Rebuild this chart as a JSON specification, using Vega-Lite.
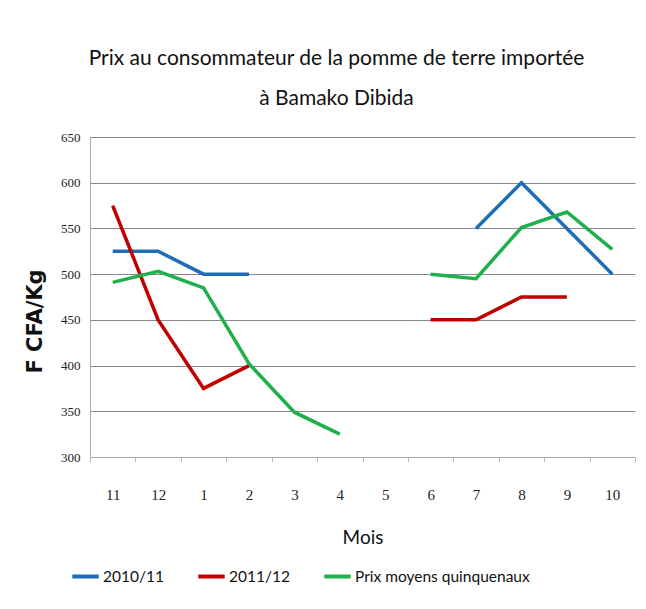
{
  "$schema": "https://vega.github.io/schema/vega-lite/v6.json",
  "autosize": {"type": "none"},
  "width": 545,
  "height": 320,
  "padding": {"left": 90, "top": 137, "right": 11, "bottom": 152},
  "background": "white",
  "title": {
    "text": ["Prix au consommateur de la pomme de terre importée", "à Bamako Dibida"],
    "font": "Lato",
    "fontSize": 21,
    "fontWeight": "normal",
    "color": "#111",
    "lineHeight": 40,
    "anchor": "middle",
    "dx": -26,
    "offset": 22
  },
  "data": {
    "values": [
      {"mois": "11", "serie": "2010/11", "seg": "a1", "prix": 525},
      {"mois": "12", "serie": "2010/11", "seg": "a1", "prix": 525},
      {"mois": "1", "serie": "2010/11", "seg": "a1", "prix": 500},
      {"mois": "2", "serie": "2010/11", "seg": "a1", "prix": 500},
      {"mois": "7", "serie": "2010/11", "seg": "a2", "prix": 550},
      {"mois": "8", "serie": "2010/11", "seg": "a2", "prix": 600},
      {"mois": "9", "serie": "2010/11", "seg": "a2", "prix": 550},
      {"mois": "10", "serie": "2010/11", "seg": "a2", "prix": 500},
      {"mois": "11", "serie": "2011/12", "seg": "b1", "prix": 575},
      {"mois": "12", "serie": "2011/12", "seg": "b1", "prix": 450},
      {"mois": "1", "serie": "2011/12", "seg": "b1", "prix": 375},
      {"mois": "2", "serie": "2011/12", "seg": "b1", "prix": 400},
      {"mois": "6", "serie": "2011/12", "seg": "b2", "prix": 450},
      {"mois": "7", "serie": "2011/12", "seg": "b2", "prix": 450},
      {"mois": "8", "serie": "2011/12", "seg": "b2", "prix": 475},
      {"mois": "9", "serie": "2011/12", "seg": "b2", "prix": 475},
      {"mois": "11", "serie": "Prix moyens quinquenaux", "seg": "c1", "prix": 491},
      {"mois": "12", "serie": "Prix moyens quinquenaux", "seg": "c1", "prix": 503},
      {"mois": "1", "serie": "Prix moyens quinquenaux", "seg": "c1", "prix": 485},
      {"mois": "2", "serie": "Prix moyens quinquenaux", "seg": "c1", "prix": 402},
      {"mois": "3", "serie": "Prix moyens quinquenaux", "seg": "c1", "prix": 349},
      {"mois": "4", "serie": "Prix moyens quinquenaux", "seg": "c1", "prix": 325},
      {"mois": "6", "serie": "Prix moyens quinquenaux", "seg": "c2", "prix": 500},
      {"mois": "7", "serie": "Prix moyens quinquenaux", "seg": "c2", "prix": 495},
      {"mois": "8", "serie": "Prix moyens quinquenaux", "seg": "c2", "prix": 551},
      {"mois": "9", "serie": "Prix moyens quinquenaux", "seg": "c2", "prix": 568},
      {"mois": "10", "serie": "Prix moyens quinquenaux", "seg": "c2", "prix": 527}
    ]
  },
  "mark": {"type": "line", "strokeWidth": 3.5, "strokeCap": "butt"},
  "encoding": {
    "x": {
      "field": "mois",
      "type": "ordinal",
      "sort": ["11", "12", "1", "2", "3", "4", "5", "6", "7", "8", "9", "10"],
      "scale": {"domain": ["11", "12", "1", "2", "3", "4", "5", "6", "7", "8", "9", "10"]},
      "axis": {
        "title": "Mois",
        "titleFont": "Lato",
        "titleFontSize": 19,
        "titleFontWeight": "normal",
        "titleColor": "#111",
        "titlePadding": 26,
        "labelAngle": 0,
        "labelFont": "Liberation Serif",
        "labelFontSize": 15,
        "labelColor": "#222",
        "labelPadding": 25,
        "tickBand": "extent",
        "tickSize": 5,
        "tickColor": "#bbb",
        "domainColor": "#aaa",
        "grid": false
      }
    },
    "y": {
      "field": "prix",
      "type": "quantitative",
      "scale": {"domain": [300, 650], "nice": false},
      "axis": {
        "title": "F CFA/Kg",
        "titleFont": "DejaVu Sans",
        "titleFontSize": 21,
        "titleFontWeight": "bold",
        "titleColor": "#111",
        "titleX": -55,
        "titleY": 184,
        "titleAlign": "center",
        "titleBaseline": "middle",
        "titleAngle": -90,
        "values": [300, 350, 400, 450, 500, 550, 600, 650],
        "labelFont": "Liberation Serif",
        "labelFontSize": 13,
        "labelColor": "#222",
        "labelPadding": 10,
        "tickSize": 0,
        "domainColor": "#aaa",
        "gridColor": "#888",
        "gridWidth": 1
      }
    },
    "color": {
      "field": "serie",
      "type": "nominal",
      "scale": {
        "domain": ["2010/11", "2011/12", "Prix moyens quinquenaux"],
        "range": ["#1f6db5", "#c00000", "#1fb04c"]
      },
      "legend": {
        "title": null,
        "orient": "none",
        "direction": "horizontal",
        "legendX": -20,
        "legendY": 424,
        "symbolType": "stroke",
        "symbolStrokeWidth": 4,
        "symbolSize": 700,
        "labelFont": "Lato",
        "labelFontSize": 15.5,
        "labelColor": "#111",
        "labelLimit": 400,
        "columnPadding": 26,
        "labelOffset": 2
      }
    },
    "detail": {"field": "seg"}
  },
  "config": {
    "view": {"stroke": null}
  }
}
